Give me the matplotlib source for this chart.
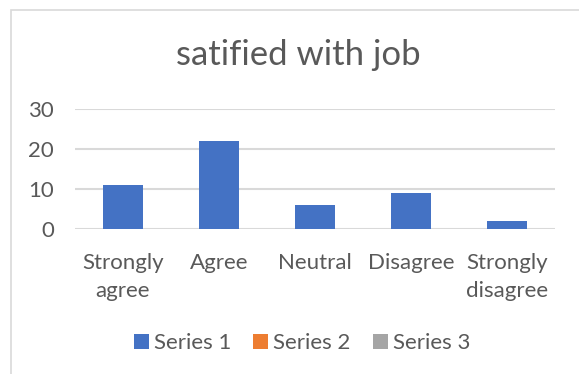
import matplotlib
matplotlib.use("Agg")
import matplotlib.pyplot as plt
from matplotlib.patches import Patch, Rectangle

categories = ["Strongly\nagree", "Agree", "Neutral", "Disagree", "Strongly\ndisagree"]
series_1 = [11, 22, 6, 9, 2]
series_names = ["Series 1", "Series 2", "Series 3"]
series_colors = ["#4472C4", "#ED7D31", "#A5A5A5"]
y_ticks = [0, 10, 20, 30]

plt.rcParams['font.family'] = ['Lato', 'DejaVu Sans']
text_color = '#595959'
grid_color = '#D9D9D9'

W, H = 579, 374
fig = plt.figure(figsize=(W / 100, H / 100), dpi=100)

# chart frame (only top and left edges are in view)
fig.patches.append(Rectangle((11 / W, -0.1), 1.2, (H - 10) / H + 0.1,
                             transform=fig.transFigure, fill=False,
                             edgecolor=grid_color, linewidth=1.2))

ax = fig.add_axes([75 / W, 145 / H, 480 / W, 120 / H])
x = range(len(categories))
ax.bar(x, series_1, width=0.41, color=series_colors[0], zorder=3)

ax.set_xlim(-0.5, len(categories) - 0.5)
ax.set_ylim(0, 30)
ax.set_yticks(y_ticks)
ax.set_xticks(list(x))
ax.set_xticklabels(categories, linespacing=1.45)
ax.yaxis.grid(True, color=grid_color, linewidth=1.5, zorder=0)
for s in ax.spines.values():
    s.set_visible(False)
ax.tick_params(axis='both', length=0, labelsize=16, colors=text_color)
ax.tick_params(axis='x', pad=17.5)
ax.tick_params(axis='y', pad=15)
ax.set_facecolor('none')

fig.text(298 / W, 1 - 55 / H, "satified with job", ha='center', va='center',
         fontsize=25, color=text_color)

handles = [Patch(facecolor=c, edgecolor='none') for c in series_colors]
fig.legend(handles, series_names, loc='center', bbox_to_anchor=(302 / W, 1 - 343 / H),
           ncol=3, frameon=False, fontsize=16, labelcolor=text_color,
           handlelength=0.68, handleheight=0.68, handletextpad=0.22, columnspacing=1.0)

fig.savefig("out.png", dpi=100)
